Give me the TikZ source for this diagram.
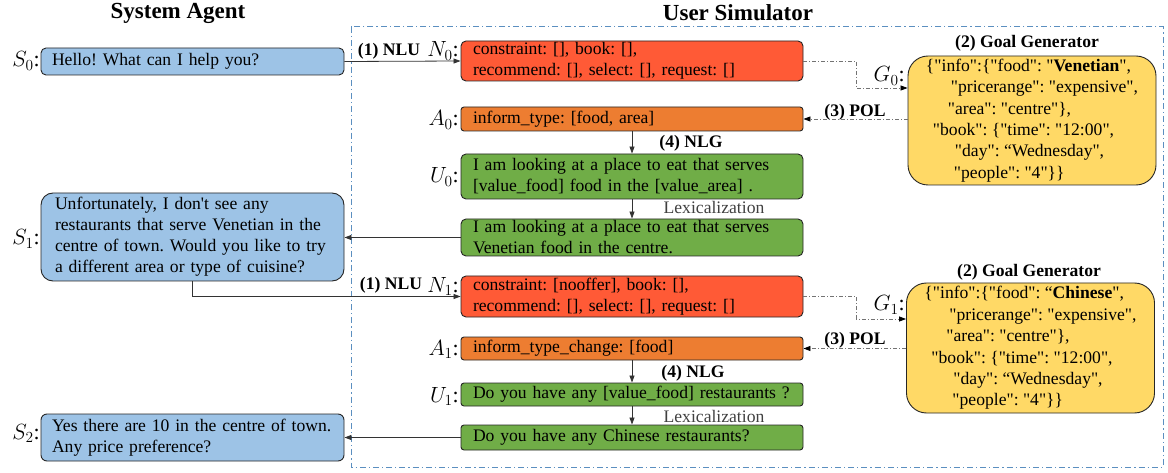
\documentclass[tikz,border=0pt]{standalone}
\usepackage{fix-cm}
\usepackage{fontspec}
\setmainfont{Liberation Serif}
\newfontfamily\qfont{Liberation Serif}[Ligatures=TeXOff]
\usetikzlibrary{arrows.meta,calc}
\definecolor{sblue}{HTML}{9DC3E6}
\definecolor{nred}{HTML}{FF5A36}
\definecolor{aorange}{HTML}{ED7D31}
\definecolor{ugreen}{HTML}{70AD47}
\definecolor{gyellow}{HTML}{FFD966}
\definecolor{framecol}{HTML}{5B8FC0}
\newcommand\bodyfont{\fontsize{17.6}{21}\selectfont}
\newcommand\gfont{\fontsize{17.6}{21.4}\selectfont}
\newcommand\mathlblfont{\fontsize{22}{26}\selectfont}
\frenchspacing
\begin{document}
\begin{tikzpicture}[x=1pt,y=-1pt,
  box/.style={draw=black!85, line width=0.9pt, rounded corners=5pt, align=left,
    inner xsep=12pt, inner ysep=1pt, font=\bodyfont, text=black},
  sbox/.style={box, fill=sblue, minimum width=303pt, inner xsep=11pt, text width=281pt},
  ubox/.style={box, minimum width=342pt, text width=318pt},
  gbox/.style={box, fill=gyellow, rounded corners=20pt, minimum width=248pt, font=\gfont\qfont, inner xsep=6pt},
  mlbl/.style={font=\mathlblfont, anchor=base east, inner sep=0pt},
  steplbl/.style={font=\bfseries\bodyfont, inner sep=0pt},
  lexlbl/.style={font=\bodyfont, text=black!75, inner sep=0pt},
  titlelbl/.style={font=\bfseries\fontsize{23}{27}\selectfont, inner sep=0pt},
  conn/.style={draw=black!80, line width=0.8pt, -{Triangle[length=7pt,width=5pt]}},
  goalconn/.style={draw=black!55, line width=0.8pt, dash pattern=on 4pt off 2pt on 1pt off 2pt,
    -{Triangle[length=7pt,width=5pt,fill=black,color=black]}},
  frame/.style={draw=framecol, line width=1pt, dash pattern=on 6pt off 3pt on 1.2pt off 3pt}
]
\useasboundingbox (0,0) rectangle (1168,473);

% titles
\node[titlelbl] (tSys) at (178,13) {System Agent};
\node[titlelbl] (tUser) at (738,13) {User Simulator};

% user simulator frame
\draw[frame] (351,27) rectangle (1163,467);

% system agent boxes
\node[sbox, minimum height=27pt] (S0) at (192.5,61.5) {\mbox{Hello! What can I help you?}};
\node[sbox, inner xsep=14pt, text width=275pt, minimum height=88pt, rounded corners=12pt] (S1) at (192.5,237)
  {\mbox{Unfortunately, I don{\qfont'}t see any}\\\mbox{restaurants that serve Venetian in the}\\\mbox{centre of town. Would you like to try}\\\mbox{a different area or type of cuisine?}};
\node[sbox, minimum height=47pt, rounded corners=6pt] (S2) at (192.5,437.5)
  {\mbox{Yes there are 10 in the centre of town.}\\\mbox{Any price preference?}};

\node[mlbl] (lS0) at (40,67) {$S_0$:};
\node[mlbl] (lS1) at (40,245) {$S_1$:};
\node[mlbl] (lS2) at (40,439) {$S_2$:};

% user simulator boxes, turn 0
\node[ubox, fill=nred, minimum height=40pt] (N0) at (632,61)
  {\mbox{constraint: [], book: [],}\\\mbox{recommend: [], select: [], request: []}};
\node[ubox, fill=aorange, minimum height=24pt, rounded corners=3pt] (A0) at (632,119)
  {\mbox{inform\_type: [food, area]}};
\node[ubox, fill=ugreen, minimum height=45pt] (U0) at (632,176.5)
  {\mbox{I am looking at a place to eat that serves}\\\mbox{[value\_food] food in the [value\_area] .}};
\node[ubox, fill=ugreen, minimum height=37pt, inner ysep=0pt] (L0) at (632,237.5)
  {\mbox{I am looking at a place to eat that serves}\\\mbox{Venetian food in the centre.}};

% turn 1
\node[ubox, fill=nred, minimum height=41pt] (N1) at (632,296.5)
  {\mbox{constraint: [nooffer], book: [],}\\\mbox{recommend: [], select: [], request: []}};
\node[ubox, fill=aorange, minimum height=23pt, rounded corners=3pt] (A1) at (632,348.5)
  {\mbox{inform\_type\_change: [food]}};
\node[ubox, fill=ugreen, minimum height=23pt, rounded corners=3pt] (U1) at (632,394.5)
  {\mbox{Do you have any [value\_food] restaurants ?}};
\node[ubox, fill=ugreen, minimum height=25pt, rounded corners=3pt] (L1) at (632,437.5)
  {\mbox{Do you have any Chinese restaurants?}};

\node[mlbl] (lN0) at (459,57) {$N_0$:};
\node[mlbl] (lA0) at (459,126) {$A_0$:};
\node[mlbl] (lU0) at (459,183) {$U_0$:};
\node[mlbl] (lN1) at (459,292) {$N_1$:};
\node[mlbl] (lA1) at (459,355) {$A_1$:};
\node[mlbl] (lU1) at (459,402) {$U_1$:};

% goal boxes
\node[gbox, minimum height=129pt] (G0) at (1032,120.5)
  {\{"info":\{"food": "\textbf{Venetian}",\\
   \hspace*{25pt}"pricerange": "expensive",\\
   \hspace*{22pt}"area": "centre"\},\\
   \hspace*{7pt}"book": \{"time": "12:00",\\
   \hspace*{29pt}"day": “Wednesday",\\
   \hspace*{28pt}"people": "4"\}\}};
\node[gbox, minimum height=130pt] (G1) at (1030.5,348)
  {\{"info":\{"food": “\textbf{Chinese}",\\
   \hspace*{25pt}"pricerange": "expensive",\\
   \hspace*{22pt}"area": "centre"\},\\
   \hspace*{7pt}"book": \{"time": "12:00",\\
   \hspace*{29pt}"day": “Wednesday",\\
   \hspace*{28pt}"people": "4"\}\}};
\node[mlbl] (lG0) at (905,82) {$G_0$:};
\node[mlbl] (lG1) at (905,311) {$G_1$:};

% step labels
\node[steplbl] (nlu0) at (389,51) {(1) NLU};
\node[steplbl] (nlu1) at (391,285) {(1) NLU};
\node[steplbl] (gg0) at (1027,43) {(2) Goal Generator};
\node[steplbl] (gg1) at (1029,272) {(2) Goal Generator};
\node[steplbl] (pol0) at (855,112) {(3) POL};
\node[steplbl] (pol1) at (855,340) {(3) POL};
\node[steplbl] (nlg0) at (691,143) {(4) NLG};
\node[steplbl] (nlg1) at (693,373) {(4) NLG};
\node[lexlbl] (lex0) at (714,207) {Lexicalization};
\node[lexlbl] (lex1) at (714,416) {Lexicalization};

% connectors
\draw[conn] (S0.east) -- (N0.west);
\draw[conn] (A0.south) -- (U0.north);
\draw[conn] (U0.south) -- (L0.north);
\draw[conn] (L0.west) -- (L0.west -| S1.east);
\draw[conn] (S1.south) |- (N1.west);
\draw[conn] (A1.south) -- (U1.north);
\draw[conn] (U1.south) -- (L1.north);
\draw[conn] (L1.west) -- (L1.west -| S2.east);

\draw[goalconn] (N0.east) -- ++(53,0) |- ($(G0.west)+(0,-32.5)$);
\draw[goalconn] (G0.west |- A0.east) -- (A0.east);
\draw[goalconn] (N1.east) -- ++(53,0) |- ($(G1.west)+(0,-29)$);
\draw[goalconn] (G1.west |- A1.east) -- (A1.east);
\end{tikzpicture}
\end{document}
